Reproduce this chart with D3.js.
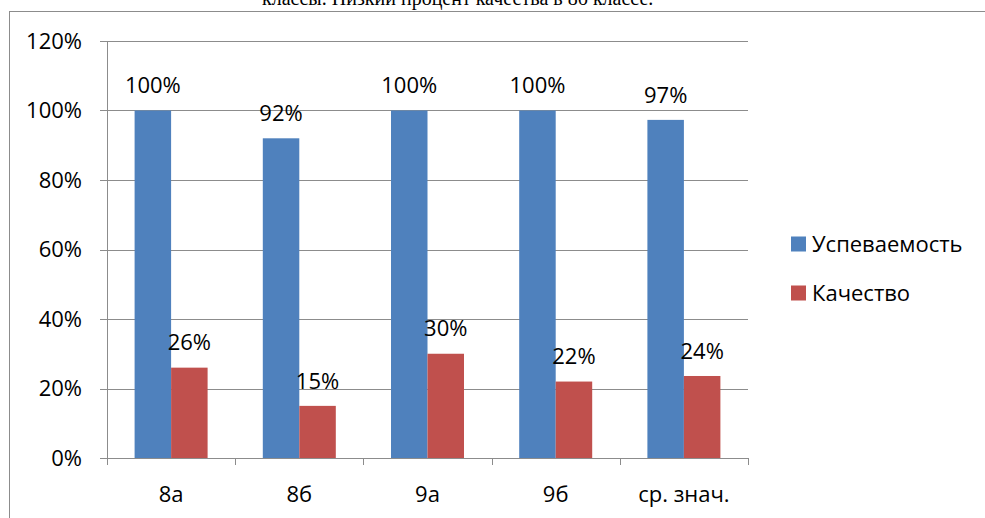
<!DOCTYPE html>
<html><head><meta charset="utf-8">
<script src="https://cdn.jsdelivr.net/npm/d3@7"></script>
<style>body{margin:0;background:#fff;overflow:hidden}svg{display:block}</style>
</head><body>
<svg id="c" width="985" height="518"></svg>
<script>
const categories = ["8а", "8б", "9а", "9б", "ср. знач."];
const seriesNames = ["Успеваемость", "Качество"];
const uspevaemost = [100, 92, 100, 100, 97.3];
const kachestvo = [26, 15, 30, 22, 23.6];
const yTicks = [0, 20, 40, 60, 80, 100, 120];
const colors = ["#4F81BD", "#C0504D"];
const series = [uspevaemost, kachestvo];

(function () {
const svg = d3.select("#c");
const font = "'Open Sans', sans-serif";
const fs = 22;

// cut-off paragraph text above the chart
svg.append("text").attr("x", 262).attr("y", 5)
  .attr("font-family", "'Liberation Serif', serif").attr("font-size", 20)
  .text("классы. Низкий процент качества в 8б классе.");

// chart frame
svg.append("rect").attr("x", 9.5).attr("y", 11.5).attr("width", 1000).attr("height", 600)
  .attr("fill", "none").attr("stroke", "#8c8c8c").attr("stroke-width", 1);

const pL = 107, pR = 748, pT = 41, pB = 458;
const x = d3.scaleBand().domain(categories).range([pL, pR]).paddingInner(0).paddingOuter(0);
const y = d3.scaleLinear().domain([0, 120]).range([pB, pT]);
const xs = d3.scaleBand().domain([0, 1]).range([0, 73]);
const groupOffset = (x.bandwidth() - 73) / 2;

// gridlines
svg.append("g").selectAll("line").data(yTicks).join("line")
  .attr("x1", pL - 7).attr("x2", pR)
  .attr("y1", d => Math.round(y(d)) + 0.5).attr("y2", d => Math.round(y(d)) + 0.5)
  .attr("stroke", "#8c8c8c").attr("stroke-width", 1);

// y axis line
svg.append("line").attr("x1", pL + 0.5).attr("x2", pL + 0.5)
  .attr("y1", pT).attr("y2", pB + 7).attr("stroke", "#8c8c8c");

// x tick marks
const xt = categories.map(c => x(c)).concat([pR]);
svg.append("g").selectAll("line").data(xt).join("line")
  .attr("x1", d => Math.round(d) + 0.5).attr("x2", d => Math.round(d) + 0.5)
  .attr("y1", pB).attr("y2", pB + 7).attr("stroke", "#8c8c8c");

// y labels
svg.append("g").selectAll("text").data(yTicks).join("text")
  .attr("x", 82).attr("y", d => y(d)).attr("dy", "0.35em")
  .attr("text-anchor", "end").attr("font-family", font).attr("font-size", fs)
  .attr("fill", "#000").text(d => d + "%");

// bars
series.forEach((vals, si) => {
  const g = svg.append("g");
  g.selectAll("rect").data(vals).join("rect")
    .attr("x", (d, i) => x(categories[i]) + groupOffset + xs(si))
    .attr("width", xs.bandwidth())
    .attr("y", d => y(d)).attr("height", d => pB - y(d))
    .attr("fill", colors[si]);
  g.selectAll("text").data(vals).join("text")
    .attr("x", (d, i) => x(categories[i]) + groupOffset + xs(si) + xs.bandwidth() / 2)
    .attr("y", d => y(d) - 25).attr("dy", "0.35em")
    .attr("text-anchor", "middle").attr("font-family", font).attr("font-size", fs)
    .text(d => Math.round(d) + "%");
});

// x labels
svg.append("g").selectAll("text").data(categories).join("text")
  .attr("x", d => x(d) + x.bandwidth() / 2).attr("y", 494).attr("dy", "0.35em")
  .attr("text-anchor", "middle").attr("font-family", font).attr("font-size", fs)
  .text(d => d);

// legend
const lg = svg.append("g");
seriesNames.forEach((n, i) => {
  const cy = 244 + i * 49;
  lg.append("rect").attr("x", 791).attr("y", cy - 7.5).attr("width", 15).attr("height", 15).attr("fill", colors[i]);
  lg.append("text").attr("x", 812).attr("y", cy).attr("dy", "0.35em")
    .attr("font-family", font).attr("font-size", fs).text(n);
});
})();
</script>
</body></html>
